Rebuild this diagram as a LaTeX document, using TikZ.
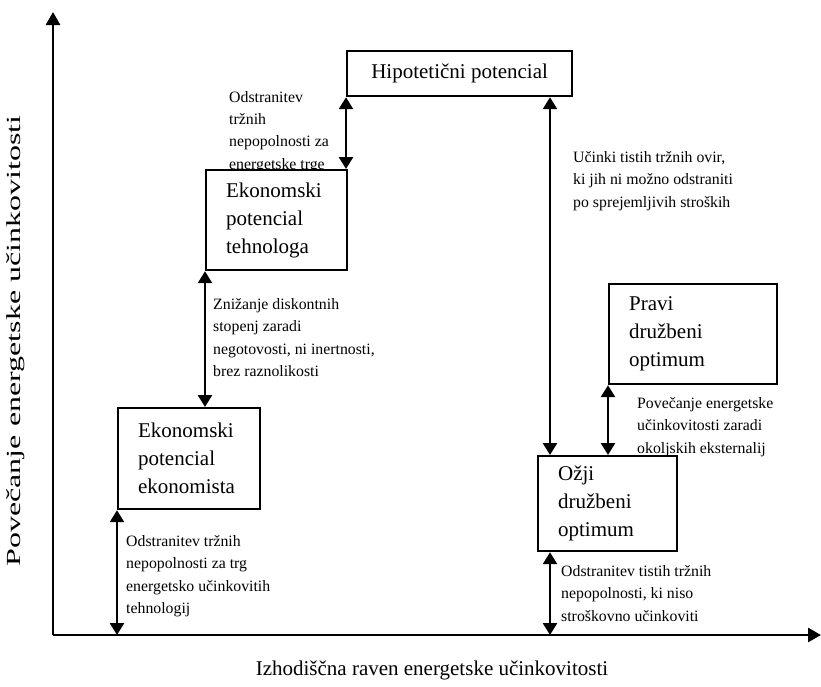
\documentclass[tikz,border=0pt]{standalone}
\usepackage{fontspec}
\setmainfont{Liberation Serif}
\usetikzlibrary{positioning,arrows.meta}

\begin{document}
\begin{tikzpicture}[
  x=1pt, y=-1pt,
  box/.style={draw, fill=white, line width=2.2pt, anchor=north west, inner sep=0pt,
    font=\fontsize{21}{28}\selectfont},
  tbox/.style={box, align=left, inner xsep=19.5pt},
  note/.style={anchor=north west, align=left, inner sep=0pt,
    font=\fontsize{15.8}{22.4}\selectfont},
  axis/.style={line width=2.6pt, -{Triangle[length=13pt,width=14pt]}},
  conn/.style={line width=2.6pt, {Triangle[length=12pt,width=14pt]}-{Triangle[length=12pt,width=14pt]}}
]
\useasboundingbox (0,0) rectangle (821,686);

% axes
\coordinate (O) at (53,635);
\coordinate (ytip) at (53,12);
\coordinate (xtip) at (821,635);
\draw[axis] (O) -- (ytip);
\draw[axis] (O) -- (xtip);
\node[rotate=90, font=\fontsize{20}{24}\selectfont] (ylab) at (16,341) {\scalebox{1.6}[1]{Povečanje energetske učinkovitosti}};
\node[font=\fontsize{21}{24}\selectfont] (xlab) at (432,670) {Izhodiščna raven energetske učinkovitosti};

% notes (y = first baseline - 11)
\node[note] (n1) at (229,91) {Odstranitev\\tržnih\\nepopolnosti za\\energetske trge};
\node[note] (n2) at (573,151) {Učinki tistih tržnih ovir,\\ki jih ni možno odstraniti\\po sprejemljivih stroških};
\node[note] (n3) at (213,298) {Znižanje diskontnih\\stopenj zaradi\\negotovosti, ni inertnosti,\\brez raznolikosti};
\node[note] (n4) at (637,397) {Povečanje energetske\\učinkovitosti zaradi\\okoljskih eksternalij};
\node[note] (n5) at (126,535) {Odstranitev tržnih\\nepopolnosti za trg\\energetsko učinkovitih\\tehnologij};
\node[note] (n6) at (561,565) {Odstranitev tistih tržnih\\nepopolnosti, ki niso\\stroškovno učinkoviti};

% boxes
\node[box, minimum width=225pt, minimum height=45pt] (hip) at (346,50) {Hipotetični potencial};
\node[tbox, minimum width=141pt, minimum height=100pt, text width=101pt] (tech) at (205,169) {Ekonomski\\potencial\\tehnologa};
\node[tbox, minimum width=142pt, minimum height=101pt, text width=102pt] (ekon) at (117,407) {Ekonomski\\potencial\\ekonomista};
\node[tbox, minimum width=168pt, minimum height=100pt, text width=128pt] (pravi) at (608,283) {Pravi\\družbeni\\optimum};
\node[tbox, minimum width=139pt, minimum height=95pt, text width=99pt] (ozji) at (537,455) {Ožji\\družbeni\\optimum};

% connectors
\coordinate (e1) at (ekon.south west |- O);
\coordinate (o1) at (550,0);
\draw[conn] (hip.south west) -- (hip.south west |- tech.north);
\draw[conn] (tech.south west) -- (tech.south west |- ekon.north);
\draw[conn] (ekon.south west) -- (e1);
\draw[conn] (hip.south -| o1) -- (ozji.north -| o1);
\draw[conn] (pravi.south west) -- (pravi.south west |- ozji.north);
\draw[conn] (ozji.south -| o1) -- (O -| o1);
\end{tikzpicture}
\end{document}
